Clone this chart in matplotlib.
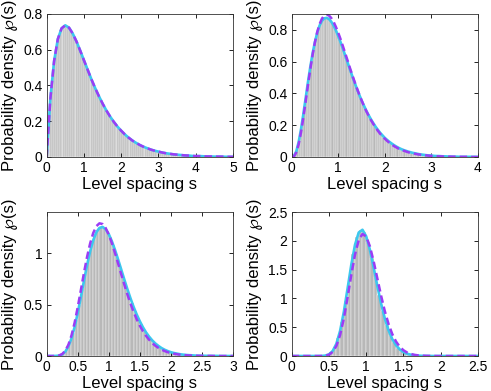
import numpy as np
import matplotlib
matplotlib.use('Agg')
import matplotlib.pyplot as plt
from matplotlib.ticker import FormatStrFormatter

# level spacing histograms, bin width 0.05, first bin starts at 0
bin_w = 0.05

hist_1 = [0.095, 0.258, 0.389, 0.493, 0.574, 0.635, 0.679, 0.709, 0.727, 0.735,
          0.735, 0.728, 0.716, 0.700, 0.680, 0.658, 0.634, 0.608, 0.582, 0.555,
          0.528, 0.501, 0.474, 0.448, 0.423, 0.398, 0.374, 0.352, 0.330, 0.309,
          0.289, 0.270, 0.252, 0.235, 0.219, 0.204, 0.190, 0.176, 0.164, 0.152,
          0.141, 0.131, 0.121, 0.112, 0.104, 0.096, 0.089, 0.082, 0.076, 0.070,
          0.065, 0.060, 0.055, 0.051, 0.047, 0.043, 0.040, 0.037, 0.034, 0.031,
          0.029, 0.026, 0.024, 0.022, 0.020, 0.019, 0.017, 0.016, 0.015, 0.013,
          0.012, 0.011, 0.010, 0.009, 0.009, 0.008, 0.007, 0.007, 0.006, 0.006,
          0.005, 0.005, 0.004, 0.004, 0.004, 0.003, 0.003, 0.003, 0.003, 0.002,
          0.002, 0.002, 0.002, 0.002, 0.002, 0.001, 0.001, 0.001, 0.001, 0.001]
hist_2 = [0.001, 0.018, 0.062, 0.131, 0.219, 0.318, 0.420, 0.519, 0.610, 0.690,
          0.756, 0.807, 0.843, 0.866, 0.875, 0.873, 0.861, 0.840, 0.812, 0.779,
          0.742, 0.701, 0.659, 0.616, 0.573, 0.531, 0.489, 0.449, 0.411, 0.374,
          0.340, 0.308, 0.278, 0.251, 0.225, 0.202, 0.181, 0.161, 0.144, 0.128,
          0.114, 0.101, 0.089, 0.079, 0.069, 0.061, 0.054, 0.047, 0.041, 0.036,
          0.032, 0.028, 0.024, 0.021, 0.018, 0.016, 0.014, 0.012, 0.011, 0.009,
          0.008, 0.007, 0.006, 0.005, 0.004, 0.004, 0.003, 0.003, 0.002, 0.002,
          0.002, 0.002, 0.001, 0.001, 0.001, 0.001, 0.001, 0.001, 0.001, 0.000]
hist_3 = [0.000, 0.000, 0.000, 0.002, 0.008, 0.026, 0.064, 0.129, 0.223, 0.346,
          0.492, 0.649, 0.807, 0.952, 1.075, 1.169, 1.229, 1.255, 1.248, 1.213,
          1.154, 1.077, 0.988, 0.892, 0.794, 0.697, 0.605, 0.518, 0.440, 0.370,
          0.308, 0.254, 0.208, 0.169, 0.136, 0.109, 0.087, 0.069, 0.054, 0.042,
          0.033, 0.026, 0.020, 0.015, 0.012, 0.009, 0.007, 0.005, 0.004, 0.003,
          0.002, 0.002, 0.001, 0.001, 0.001, 0.000, 0.000, 0.000, 0.000, 0.000]
hist_4 = [0.000, 0.000, 0.000, 0.000, 0.000, 0.000, 0.000, 0.000, 0.003, 0.014,
          0.050, 0.139, 0.312, 0.590, 0.962, 1.381, 1.772, 2.059, 2.191, 2.155,
          1.974, 1.697, 1.376, 1.058, 0.775, 0.542, 0.364, 0.235, 0.147, 0.089,
          0.052, 0.029, 0.016, 0.009, 0.005, 0.002, 0.001, 0.001, 0.000, 0.000,
          0.000, 0.000, 0.000, 0.000, 0.000, 0.000, 0.000, 0.000, 0.000, 0.000]

# fitted curve (solid) and prediction (dashed), evenly spaced from 0 to x max
fit_1 = [0.000, 0.327, 0.536, 0.659, 0.719, 0.736, 0.723, 0.690, 0.646, 0.595,
         0.541, 0.488, 0.435, 0.386, 0.341, 0.299, 0.261, 0.227, 0.197, 0.170,
         0.147, 0.126, 0.108, 0.092, 0.079, 0.067, 0.057, 0.049, 0.041, 0.035,
         0.030, 0.025, 0.021, 0.018, 0.015, 0.013, 0.011, 0.009, 0.008, 0.006,
         0.005, 0.005, 0.004, 0.003, 0.003, 0.002, 0.002, 0.002, 0.001, 0.001,
         0.001]
theory_1 = fit_1

fit_2 = [0.000, 0.006, 0.036, 0.094, 0.173, 0.268, 0.369, 0.471, 0.566, 0.652,
         0.724, 0.783, 0.827, 0.856, 0.872, 0.875, 0.868, 0.851, 0.827, 0.796,
         0.761, 0.722, 0.681, 0.638, 0.595, 0.552, 0.510, 0.469, 0.430, 0.392,
         0.357, 0.324, 0.293, 0.264, 0.238, 0.214, 0.191, 0.171, 0.152, 0.136,
         0.120, 0.107, 0.095, 0.084, 0.074, 0.065, 0.057, 0.050, 0.044, 0.039,
         0.034, 0.030, 0.026, 0.023, 0.020, 0.017, 0.015, 0.013, 0.011, 0.010,
         0.009, 0.007, 0.006, 0.006, 0.005, 0.004, 0.004, 0.003, 0.003, 0.002,
         0.002, 0.002, 0.001, 0.001, 0.001, 0.001, 0.001, 0.001, 0.001, 0.001,
         0.000]
theory_2 = [0.000, 0.004, 0.029, 0.079, 0.153, 0.245, 0.347, 0.451, 0.551, 0.643,
            0.722, 0.787, 0.836, 0.870, 0.890, 0.896, 0.890, 0.874, 0.850, 0.818,
            0.781, 0.741, 0.697, 0.652, 0.607, 0.561, 0.517, 0.474, 0.433, 0.394,
            0.357, 0.322, 0.290, 0.261, 0.233, 0.209, 0.186, 0.165, 0.146, 0.130,
            0.115, 0.101, 0.089, 0.078, 0.068, 0.060, 0.052, 0.046, 0.040, 0.035,
            0.030, 0.026, 0.023, 0.020, 0.017, 0.015, 0.013, 0.011, 0.010, 0.008,
            0.007, 0.006, 0.005, 0.004, 0.004, 0.003, 0.003, 0.002, 0.002, 0.002,
            0.002, 0.001, 0.001, 0.001, 0.001, 0.001, 0.001, 0.000, 0.000, 0.000,
            0.000]

fit_3 = [0.000, 0.000, 0.000, 0.001, 0.004, 0.015, 0.042, 0.093, 0.172, 0.281,
         0.417, 0.570, 0.729, 0.882, 1.017, 1.126, 1.204, 1.246, 1.256, 1.234,
         1.186, 1.117, 1.033, 0.940, 0.843, 0.745, 0.650, 0.561, 0.478, 0.404,
         0.338, 0.280, 0.230, 0.188, 0.152, 0.122, 0.098, 0.077, 0.061, 0.048,
         0.037, 0.029, 0.023, 0.017, 0.013, 0.010, 0.008, 0.006, 0.004, 0.003,
         0.002, 0.002, 0.001, 0.001, 0.001, 0.001, 0.000, 0.000, 0.000, 0.000,
         0.000]
theory_3 = [0.000, 0.000, 0.000, 0.001, 0.005, 0.019, 0.051, 0.109, 0.200, 0.323,
            0.473, 0.638, 0.806, 0.962, 1.095, 1.197, 1.263, 1.291, 1.284, 1.245,
            1.181, 1.099, 1.003, 0.901, 0.797, 0.696, 0.599, 0.510, 0.429, 0.358,
            0.295, 0.242, 0.196, 0.158, 0.126, 0.100, 0.079, 0.062, 0.048, 0.037,
            0.029, 0.022, 0.017, 0.013, 0.010, 0.007, 0.005, 0.004, 0.003, 0.002,
            0.002, 0.001, 0.001, 0.001, 0.000, 0.000, 0.000, 0.000, 0.000, 0.000,
            0.000]

fit_4 = [0.000, 0.000, 0.000, 0.000, 0.000, 0.000, 0.000, 0.000, 0.001, 0.007,
         0.028, 0.086, 0.213, 0.437, 0.766, 1.170, 1.585, 1.932, 2.146, 2.193,
         2.080, 1.844, 1.539, 1.214, 0.910, 0.652, 0.447, 0.294, 0.187, 0.115,
         0.068, 0.039, 0.022, 0.012, 0.006, 0.003, 0.002, 0.001, 0.000, 0.000,
         0.000, 0.000, 0.000, 0.000, 0.000, 0.000, 0.000, 0.000, 0.000, 0.000,
         0.000]
theory_4 = [0.000, 0.000, 0.000, 0.000, 0.000, 0.000, 0.000, 0.000, 0.001, 0.006,
            0.022, 0.070, 0.175, 0.365, 0.651, 1.015, 1.408, 1.762, 2.013, 2.120,
            2.077, 1.904, 1.645, 1.346, 1.048, 0.779, 0.556, 0.381, 0.252, 0.161,
            0.100, 0.060, 0.035, 0.020, 0.011, 0.006, 0.003, 0.002, 0.001, 0.000,
            0.000, 0.000, 0.000, 0.000, 0.000, 0.000, 0.000, 0.000, 0.000, 0.000,
            0.000]

x_max = [5, 4, 3, 2.5]
y_max = [0.8, 0.9, 1.4, 2.5]
x_ticks = [[0, 1, 2, 3, 4, 5], [0, 1, 2, 3, 4], [0, 0.5, 1, 1.5, 2, 2.5, 3],
           [0, 0.5, 1, 1.5, 2, 2.5]]
y_ticks = [[0, 0.2, 0.4, 0.6, 0.8], [0, 0.2, 0.4, 0.6, 0.8], [0, 0.5, 1],
           [0, 0.5, 1, 1.5, 2, 2.5]]

hists = [hist_1, hist_2, hist_3, hist_4]
fits = [fit_1, fit_2, fit_3, fit_4]
theories = [theory_1, theory_2, theory_3, theory_4]

# axes boxes in figure fractions
pos = [[0.095, 0.5985, 0.3795, 0.366], [0.594, 0.5985, 0.3795, 0.366],
       [0.095, 0.0895, 0.3795, 0.368], [0.594, 0.0895, 0.3795, 0.368]]

plt.rcParams['font.family'] = ['Liberation Sans', 'DejaVu Sans']
fig = plt.figure(figsize=(4.91, 3.91), dpi=100)

for i in range(4):
    ax = fig.add_axes(pos[i])
    h = np.array(hists[i])
    centres = (np.arange(len(h)) + 0.5) * bin_w
    ax.bar(centres, h, width=bin_w, color='#b8b8b8', edgecolor='white', linewidth=0.3)

    s_fit = np.linspace(0, x_max[i], len(fits[i]))
    s_th = np.linspace(0, x_max[i], len(theories[i]))
    ax.plot(s_fit, fits[i], color='#3cc8ee', lw=1.9)
    ax.plot(s_th, theories[i], color='#9b3cf5', lw=1.8, ls=(0, (3, 1.6)))

    ax.set_xlim(0, x_max[i])
    ax.set_ylim(0, y_max[i])
    ax.set_xticks(x_ticks[i])
    ax.set_yticks(y_ticks[i])
    ax.xaxis.set_major_formatter(FormatStrFormatter('%g'))
    ax.yaxis.set_major_formatter(FormatStrFormatter('%g'))
    ax.tick_params(direction='in', top=True, right=True, labelsize=10,
                   length=3, width=0.6, pad=3)
    for sp in ax.spines.values():
        sp.set_linewidth(0.6)
        sp.set_color('#333333')
    ax.set_xlabel('Level spacing s', fontsize=12, labelpad=1)
    ax.set_ylabel('Probability density ℘(s)', fontsize=12, labelpad=4)

fig.savefig('out.png')
